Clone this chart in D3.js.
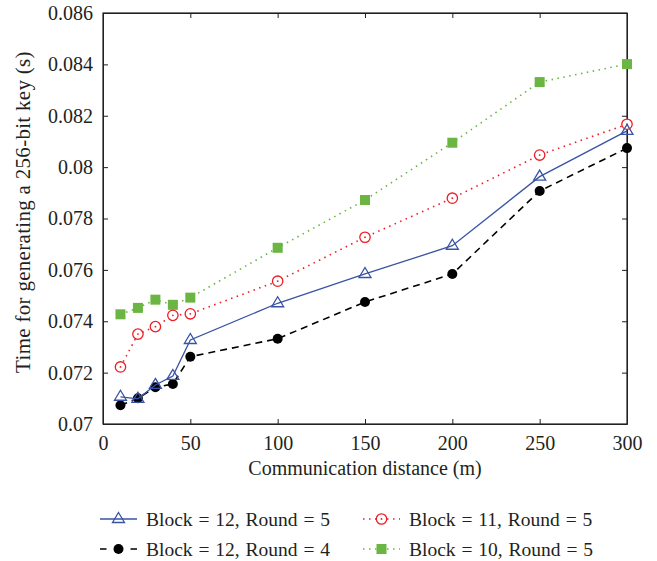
<!DOCTYPE html>
<html>
<head>
<meta charset="utf-8">
<script src="https://cdn.jsdelivr.net/npm/d3@7"></script>
<style>
  body { margin: 0; background: #fff; }
  text { font-family: "Liberation Serif", "DejaVu Serif", serif; fill: #231f20; }
  .axis path, .axis line { stroke: #231f20; }
</style>
</head>
<body>
<div id="chart"></div>
<script>
// values
const distances = [10, 20, 30, 40, 50, 100, 150, 200, 250, 300];
const block12Round5 = [0.07106, 0.07098, 0.07152, 0.07187, 0.07327, 0.07470, 0.07584, 0.07694, 0.07963, 0.08141];
const block12Round4 = [0.07073, 0.07100, 0.07143, 0.07156, 0.07262, 0.07332, 0.07475, 0.07584, 0.07907, 0.08074];
const block11Round5 = [0.07222, 0.07350, 0.07379, 0.07423, 0.07429, 0.07556, 0.07727, 0.07879, 0.08047, 0.08167];
const block10Round5 = [0.07427, 0.07452, 0.07484, 0.07464, 0.07492, 0.07686, 0.07872, 0.08095, 0.08331, 0.08401];
const xTicks = [0, 50, 100, 150, 200, 250, 300];
const yTicks = [0.07, 0.072, 0.074, 0.076, 0.078, 0.08, 0.082, 0.084, 0.086];

const series = [
    {name: "Block = 12, Round = 5", values: block12Round5, color: "#3953a4", dash: null, width: 1.3, marker: "triangle"},
    {name: "Block = 12, Round = 4", values: block12Round4, color: "#000000", dash: "7,5", width: 1.6, marker: "dot"},
    {name: "Block = 11, Round = 5", values: block11Round5, color: "#ed1c24", dash: "1.5,4.5", width: 1.6, marker: "ring"},
    {name: "Block = 10, Round = 5", values: block10Round5, color: "#6bb543", dash: "1.5,4.5", width: 1.6, marker: "square"}
];

const W = 657, H = 561;
const margin = {top: 13, right: 30, bottom: 137, left: 103};
const width = W - margin.left - margin.right;
const height = H - margin.top - margin.bottom;

const svg = d3.select("#chart").append("svg")
    .attr("width", W)
    .attr("height", H);

const g = svg.append("g")
    .attr("transform", "translate(" + margin.left + "," + margin.top + ")");

const x = d3.scaleLinear().domain([0, 300]).range([0, width]);
const y = d3.scaleLinear().domain([0.07, 0.086]).range([height, 0]);

const yFmt = d => d3.format("")(+d.toFixed(3));

// axes with inward ticks
g.append("g").attr("class", "axis")
    .attr("transform", "translate(0," + height + ")")
    .call(d3.axisBottom(x).tickValues(xTicks).tickSizeInner(-5).tickSizeOuter(0).tickPadding(12))
    .call(a => a.selectAll("text").style("font-size", "20px"));

g.append("g").attr("class", "axis")
    .call(d3.axisLeft(y).tickValues(yTicks).tickFormat(yFmt).tickSizeInner(-5).tickSizeOuter(0).tickPadding(10))
    .call(a => a.selectAll("text").style("font-size", "20px"));

g.append("g").attr("class", "axis")
    .call(d3.axisTop(x).tickValues(xTicks).tickSizeInner(-5).tickSizeOuter(0).tickFormat(""));

g.append("g").attr("class", "axis")
    .attr("transform", "translate(" + width + ",0)")
    .call(d3.axisRight(y).tickValues(yTicks).tickSizeInner(-5).tickSizeOuter(0).tickFormat(""));

g.append("rect")
    .attr("width", width)
    .attr("height", height)
    .attr("fill", "none")
    .attr("stroke", "#231f20")
    .attr("stroke-width", 1.2);

// axis titles
g.append("text")
    .attr("x", width / 2)
    .attr("y", height + 51)
    .attr("text-anchor", "middle")
    .style("font-size", "20px")
    .text("Communication distance (m)");

svg.append("text")
    .attr("transform", "translate(30,212) rotate(-90)")
    .attr("text-anchor", "middle")
    .style("font-size", "21px")
    .style("letter-spacing", "0.3px")
    .text("Time for generating a 256-bit key (s)");

const line = d3.line()
    .x((d, i) => x(distances[i]))
    .y(d => y(d));

function drawMarker(sel, type, color) {
    if (type === "triangle") {
        sel.append("path")
            .attr("d", "M0,-6.5 L6,3.5 L-6,3.5 Z")
            .attr("fill", "none")
            .attr("stroke", color)
            .attr("stroke-width", 1.3);
    } else if (type === "dot") {
        sel.append("circle").attr("r", 5).attr("fill", color);
    } else if (type === "ring") {
        sel.append("circle").attr("r", 5.2).attr("fill", "#fff").attr("stroke", color).attr("stroke-width", 1.3);
        sel.append("circle").attr("r", 0.9).attr("fill", color);
    } else if (type === "square") {
        sel.append("rect").attr("x", -5).attr("y", -5).attr("width", 10).attr("height", 10).attr("fill", color);
    }
}

// draw back to front: green, red, black, blue
const drawOrder = [3, 2, 1, 0];
drawOrder.forEach(k => {
    const s = series[k];
    const sg = g.append("g").attr("class", "series");
    sg.append("path")
        .datum(s.values)
        .attr("d", line)
        .attr("fill", "none")
        .attr("stroke", s.color)
        .attr("stroke-width", s.width)
        .attr("stroke-dasharray", s.dash);
    sg.selectAll(".mk")
        .data(s.values)
        .enter()
        .append("g")
        .attr("class", "mk")
        .attr("transform", (d, i) => "translate(" + x(distances[i]) + "," + y(d) + ")")
        .each(function () { drawMarker(d3.select(this), s.marker, s.color); });
});

// legend
const legendPos = [[100, 519], [100, 549], [363, 519], [363, 549]];
series.forEach((s, i) => {
    const lg = svg.append("g")
        .attr("transform", "translate(" + legendPos[i][0] + "," + legendPos[i][1] + ")");
    lg.append("line")
        .attr("x1", 0).attr("x2", 37)
        .attr("stroke", s.color)
        .attr("stroke-width", s.width)
        .attr("stroke-dasharray", s.marker === "dot" ? "7,24" : s.dash)
        .attr("stroke-dashoffset", s.marker === "dot" ? 0.5 : 0);
    const m = lg.append("g").attr("transform", "translate(18.5,0)");
    drawMarker(m, s.marker, s.color);
    lg.append("text")
        .attr("x", 46)
        .attr("y", 6.5)
        .style("font-size", "19.5px")
        .style("word-spacing", "1px")
        .text(s.name);
});
</script>
</body>
</html>
